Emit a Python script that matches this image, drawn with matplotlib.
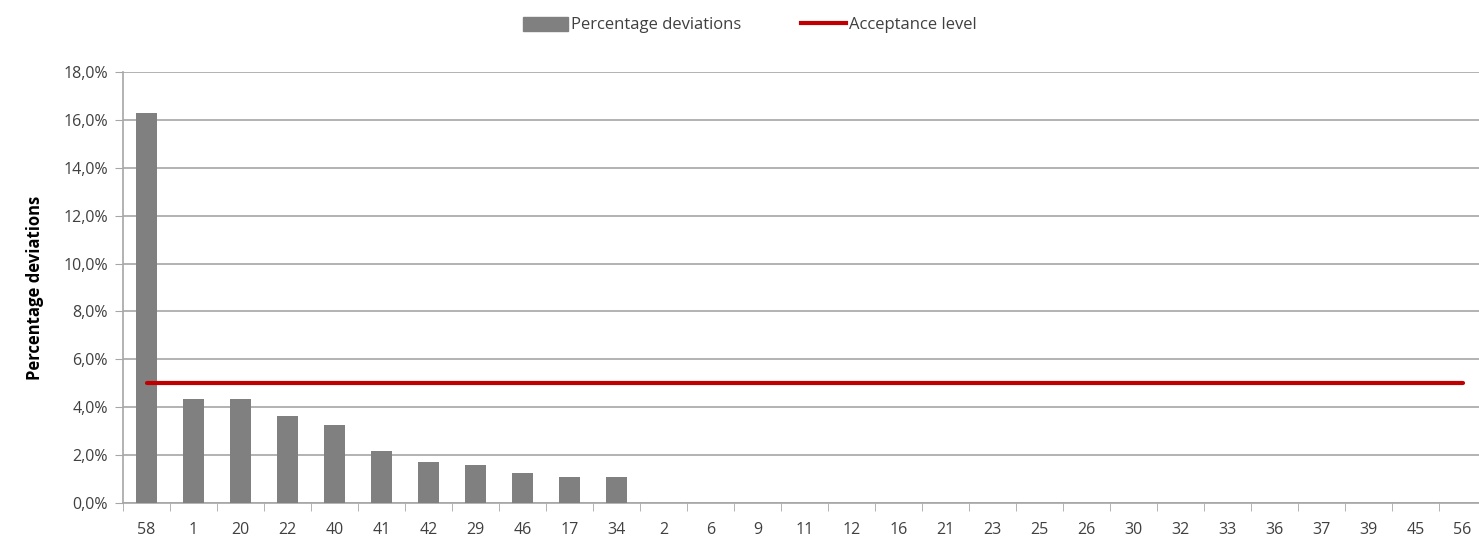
import numpy as np
import matplotlib.pyplot as plt
from matplotlib.lines import Line2D
from matplotlib.patches import Patch

# categories (sorted by deviation) and their percentage deviations
cats = ["58", "1", "20", "22", "40", "41", "42", "29", "46", "17", "34", "2", "6", "9",
        "11", "12", "16", "21", "23", "25", "26", "30", "32", "33", "36", "37", "39", "45", "56"]
devs = [16.3, 4.36, 4.36, 3.64, 3.25, 2.16, 1.72, 1.58, 1.24, 1.1, 1.1, 0, 0, 0,
        0, 0, 0, 0, 0, 0, 0, 0, 0, 0, 0, 0, 0, 0, 0]
accept = 5.0
yticks = [0, 2, 4, 6, 8, 10, 12, 14, 16, 18]

plt.rcParams['font.family'] = ['Open Sans', 'DejaVu Sans']

fig = plt.figure(figsize=(14.79, 5.43), dpi=100)
ax = fig.add_axes([123 / 1479, 1 - 503 / 543, (1486 - 123) / 1479, (503 - 72) / 543])

x = np.arange(len(cats))
ax.bar(x, devs, width=0.43, color="#808080", zorder=3)
ax.plot([x[0], x[-1]], [accept, accept], color="#c00000", lw=3, zorder=4,
        solid_capstyle="round")

ax.set_xlim(-0.5, len(cats) - 0.5)
ax.set_ylim(0, 18)
ax.set_yticks(yticks)
ax.set_yticklabels([f"{v:.1f}%".replace(".", ",") for v in yticks])
ax.yaxis.grid(True, color="#a6a6a6", lw=1.2, zorder=0)

ax.set_xticks(x)
ax.set_xticklabels(cats)
ax.set_xticks(np.arange(len(cats) + 1) - 0.5, minor=True)
ax.tick_params(axis="x", which="major", length=0, pad=14)
ax.tick_params(axis="x", which="minor", length=6, color="#a6a6a6", direction="out")
ax.tick_params(axis="y", length=6, color="#a6a6a6", pad=5)
ax.tick_params(labelsize=11.5, labelcolor="#404040")

for s in ["top", "right"]:
    ax.spines[s].set_visible(False)
for s in ["left", "bottom"]:
    ax.spines[s].set_color("#a6a6a6")
    ax.spines[s].set_linewidth(1.2)

ax.set_ylabel("Percentage deviations", fontsize=12, fontweight="bold", labelpad=14)

handles = [Patch(color="#808080"), Line2D([], [], color="#c00000", lw=3)]
fig.legend(handles, ["Percentage deviations", "Acceptance level"], loc="center",
           bbox_to_anchor=(750 / 1479, 1 - 25 / 543), ncol=2, frameon=False,
           fontsize=12, handlelength=2.7, handleheight=0.9, handletextpad=0.15,
           columnspacing=3.6, labelcolor="#404040")

fig.savefig("out.png", dpi=100)
